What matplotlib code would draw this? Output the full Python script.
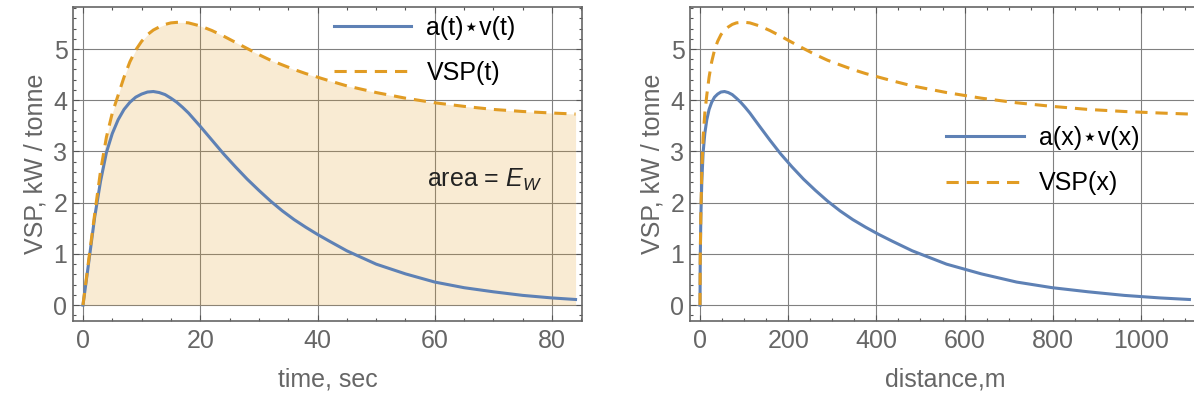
import matplotlib
matplotlib.use("Agg")
import matplotlib.pyplot as plt
from matplotlib.ticker import MultipleLocator

plt.rcParams['font.family'] = ['Liberation Sans', 'DejaVu Sans']
plt.rcParams['mathtext.fontset'] = 'custom'
plt.rcParams['mathtext.rm'] = 'Liberation Sans'
plt.rcParams['mathtext.it'] = 'Liberation Sans:italic'

# sample times (s) and distance covered at those times (m)
time_s = [0, 1, 2, 3, 4, 5, 6, 7, 8, 9, 10, 11, 12, 13, 14, 15, 16, 17, 18,
          19, 20, 22, 24, 26, 28, 30, 32, 34, 36, 38, 40, 42, 45, 50, 55, 60,
          65, 70, 75, 80, 84]
dist_m = [0, 0.5, 1.9, 4.1, 7.1, 10.9, 15.4, 20.6, 26.5, 32.9, 40, 47.5,
          55.6, 64.1, 73.1, 82.5, 92.3, 102.6, 113.1, 124.1, 135.2, 158.6,
          183.1, 208.5, 234.7, 261.7, 289.4, 317.6, 346.4, 375.8, 405.5,
          435.6, 481.4, 559.1, 638.1, 718.2, 799, 880.4, 962.2, 1044.2, 1110]

# a*v and VSP, kW/tonne
av = [0, 0.85, 1.72, 2.42, 2.98, 3.35, 3.62, 3.82, 3.96, 4.06, 4.12, 4.16,
      4.17, 4.15, 4.11, 4.04, 3.96, 3.86, 3.75, 3.62, 3.49, 3.22, 2.95, 2.7,
      2.46, 2.24, 2.03, 1.84, 1.67, 1.52, 1.38, 1.25, 1.06, 0.8, 0.61, 0.45,
      0.34, 0.26, 0.19, 0.14, 0.11]
vsp = [0, 0.9, 1.78, 2.62, 3.28, 3.75, 4.1, 4.45, 4.75, 4.98, 5.15, 5.28,
       5.37, 5.43, 5.48, 5.51, 5.52, 5.52, 5.51, 5.48, 5.45, 5.36, 5.25,
       5.13, 5.01, 4.89, 4.78, 4.69, 4.6, 4.52, 4.45, 4.38, 4.28, 4.15, 4.04,
       3.95, 3.88, 3.82, 3.78, 3.75, 3.73]

blue = '#5E81B5'
orange = '#E19C24'
gray = '#666666'

fig = plt.figure(figsize=(11.94, 4.04), dpi=100)
ax1 = fig.add_axes([73 / 1194, 83 / 404, 509 / 1194, 314 / 404])
ax2 = fig.add_axes([690 / 1194, 83 / 404, 510 / 1194, 314 / 404])


def style_axes(ax, major, minor):
    ax.set_axisbelow(True)
    ax.grid(True, which='major', color=(0.5, 0.5, 0.5, 0.35), lw=0.8)
    ax.xaxis.set_major_locator(MultipleLocator(major))
    ax.xaxis.set_minor_locator(MultipleLocator(minor))
    ax.yaxis.set_major_locator(MultipleLocator(1))
    ax.yaxis.set_minor_locator(MultipleLocator(0.2))
    ax.set_ylim(-0.31, 5.82)
    ax.tick_params(which='both', direction='in', top=True, right=True,
                   color='#555555', width=0.8, labelsize=18, labelcolor=gray)
    ax.tick_params(axis='x', which='major', length=4.5, pad=6)
    ax.tick_params(axis='y', which='major', length=4.5, pad=4)
    ax.tick_params(which='minor', length=2.5)
    for s in ax.spines.values():
        s.set_color(gray)
        s.set_linewidth(1.2)
    ax.set_ylabel('VSP, kW / tonne', fontsize=18, color=gray, labelpad=4)


# left: against time, area under VSP shaded
style_axes(ax1, 20, 5)
ax1.fill_between(time_s, vsp, 0, color=orange, alpha=0.2, lw=0)
ax1.plot(time_s, av, color=blue, lw=2.2, label='a(t)⋆v(t)')
ax1.plot(time_s, vsp, color=orange, lw=2.2, ls=(0, (4, 2.6)), label='VSP(t)')
ax1.set_xlim(-1.7, 85.1)
ax1.set_xlabel('time, sec', fontsize=18, color=gray, labelpad=10)
ax1.text(58.7, 2.44, 'area = $E_W$', fontsize=18, color='#222222', va='center')
ax1.legend(loc='center left', bbox_to_anchor=(42.8, 4.97),
           bbox_transform=ax1.transData, frameon=False, fontsize=18,
           handlelength=3.1, handletextpad=0.6, labelspacing=0.85,
           borderpad=0, borderaxespad=0)

# right: against distance
style_axes(ax2, 200, 50)
ax2.plot(dist_m, av, color=blue, lw=2.2, label='a(x)⋆v(x)')
ax2.plot(dist_m, vsp, color=orange, lw=2.2, ls=(0, (4, 2.6)), label='VSP(x)')
ax2.set_xlim(-22.7, 1134)
ax2.set_xlabel('distance,m', fontsize=18, color=gray, labelpad=10)
ax2.legend(loc='center left', bbox_to_anchor=(559, 2.82),
           bbox_transform=ax2.transData, frameon=False, fontsize=18,
           handlelength=3.1, handletextpad=0.6, labelspacing=0.85,
           borderpad=0, borderaxespad=0)

fig.savefig('out.png', dpi=100)
